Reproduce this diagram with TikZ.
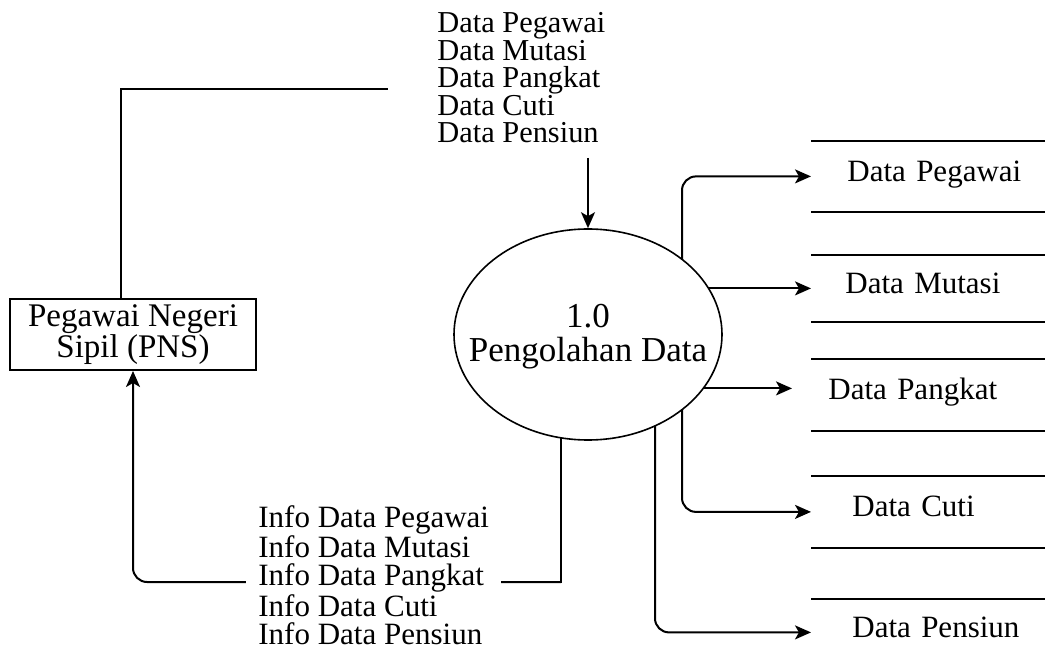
\documentclass[tikz,border=0pt]{standalone}
\usepackage{fontspec}
\setmainfont{Liberation Serif}
\usetikzlibrary{arrows.meta,calc,shapes.geometric}
\pgfdeclarelayer{bg}
\pgfsetlayers{bg,main}
\newcommand\labf{\fontsize{15.2pt}{13.75pt}\selectfont}
\newcommand\storef{\fontsize{15.5pt}{14pt}\selectfont}
\newcommand\infof{\fontsize{15.5pt}{14pt}\selectfont}
\newcommand\boxf{\fontsize{16.5pt}{15.5pt}\selectfont}
\newcommand\procf{\fontsize{17.5pt}{17pt}\selectfont}
\tikzset{
  conn/.style={line width=1pt},
  arr/.style={conn, -{Stealth[length=8pt,width=7pt,inset=2pt]}},
  storebase/.style={inner xsep=0pt, inner ysep=0pt, text width=117pt, align=left,
    minimum height=35pt, anchor=north west, font=\storef, text height=0.7em, text depth=0.22em},
  store/.style={storebase,
    append after command={(\tikzlastnode.north west) edge[conn] (\tikzlastnode.north east)
      (\tikzlastnode.south west) edge[conn] (\tikzlastnode.south east)}},
  storetop/.style={storebase,
    append after command={(\tikzlastnode.north west) edge[conn] (\tikzlastnode.north east)}},
  entity/.style={draw, line width=1pt, minimum width=123pt, minimum height=35.5pt,
    inner sep=0pt, align=center, font=\boxf},
  process/.style={ellipse, draw, line width=0.8pt, fill=white, inner sep=0pt,
    minimum width=134pt, minimum height=105.5pt},
  flowlabel/.style={anchor=north west, inner sep=0pt, align=left, font=\labf},
}
\begin{document}
\begin{tikzpicture}[x=0.5pt,y=-0.5pt]
\useasboundingbox (0,0) rectangle (1045,668);

% entity
\node[entity] (pns) at (133,334.5) {Pegawai Negeri\\Sipil (PNS)};

% process
\node[process, label={[align=center,font=\procf,yshift=-1.25pt]center:1.0\\Pengolahan Data}] (p) at (588,334.5) {};

% flow labels
\node[flowlabel] (tl) at (437,12) {Data Pegawai\\Data Mutasi\\Data Pangkat\\Data Cuti\\Data Pensiun};
\node[flowlabel, inner xsep=6pt, fill=white, font=\infof] (info) at (246,505)
  {Info Data Pegawai\\Info Data Mutasi\\Info Data Pangkat\\Info Data Cuti\\Info Data Pensiun};

% data stores
\node[store, minimum height=35pt] (s1) at (811,141) {\hspace*{18pt}Data Pegawai};
\node[store, minimum height=33pt] (s2) at (811,255) {\hspace*{17pt}Data Mutasi};
\node[store, minimum height=35.5pt] (s3) at (811,359) {\hspace*{8.5pt}Data Pangkat};
\node[store, minimum height=35.5pt] (s4) at (811,476) {\hspace*{20.5pt}Data Cuti};
\node[storetop, minimum height=33pt] (s5) at (811,599) {\hspace*{20.5pt}Data Pensiun};

% helper coordinates
\coordinate (tle) at (388,89);
\coordinate (ta) at (588,158);
\coordinate (c1) at (561,582);
\coordinate (a3) at ([xshift=-9.5pt,yshift=3.25pt]s3.west);

\begin{pgfonlayer}{bg}
\draw[conn] ($(pns.north)+(-12,0)$) |- (tle);
\draw[conn, line cap=rect] ($(p.center)+(-27,0)$) -- (c1);
\draw[arr, rounded corners=7pt] (c1) -| (pns.south);
\draw[arr, rounded corners=7pt] ($(p.center)+(94,0)$) |- (s1.west);
\draw[arr] (p.center |- s2.west) -- (s2.west);
\draw[arr] (p.center |- a3) -- (a3);
\draw[arr, rounded corners=7pt] ($(p.center)+(94,0)$) |- (s4.west);
\draw[arr, rounded corners=7pt] ($(p.center)+(67,0)$) |- (s5.west);
\end{pgfonlayer}

\draw[arr] (ta) -- (p.north);
\end{tikzpicture}
\end{document}
